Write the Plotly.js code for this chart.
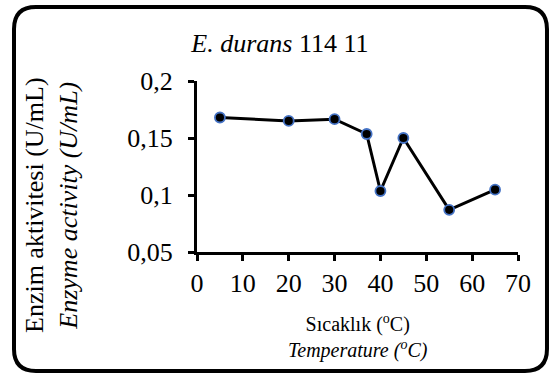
<!DOCTYPE html>
<html>
<head>
<meta charset="utf-8">
<script src="https://cdn.plot.ly/plotly-3.0.1.min.js"></script>
<style>
html,body{margin:0;padding:0;background:#fff;}
#wrap{position:relative;width:550px;height:374px;}
.fontwarm{position:absolute;left:2px;top:2px;z-index:0;font-family:'Times New Roman','Liberation Serif',serif;font-size:3px;line-height:3px;color:#fff;}
#chart{position:absolute;left:0;top:0;width:550px;height:374px;z-index:1;}
</style>
</head>
<body>
<div id="wrap">
<div class="fontwarm">E<i>E</i></div>
<div id="chart"></div>
</div>
<script>
var temperature = [5, 20, 30, 37, 40, 45, 55, 65];
var activity = [0.168, 0.165, 0.1665, 0.1535, 0.1035, 0.150, 0.087, 0.1047];
var xTicks = [0, 10, 20, 30, 40, 50, 60, 70];
var yTicks = [0.05, 0.1, 0.15, 0.2];
var yTickText = ['0,05', '0,1', '0,15', '0,2'];

var FAMILY = 'Times New Roman';

// pixel -> paper helpers for the decorative frame (plot area 197..518 x 81..252)
function px(x) { return ((x - 197) / 321).toFixed(4); }
function py(y) { return ((252 - y) / 171).toFixed(4); }
var L = 14, T = 7, R = 547, B = 371, r = 22;
var framePath = 'M' + px(L + r) + ',' + py(T) + ' L' + px(R - r) + ',' + py(T) +
  ' Q' + px(R) + ',' + py(T) + ' ' + px(R) + ',' + py(T + r) +
  ' L' + px(R) + ',' + py(B - r) +
  ' Q' + px(R) + ',' + py(B) + ' ' + px(R - r) + ',' + py(B) +
  ' L' + px(L + r) + ',' + py(B) +
  ' Q' + px(L) + ',' + py(B) + ' ' + px(L) + ',' + py(B - r) +
  ' L' + px(L) + ',' + py(T + r) +
  ' Q' + px(L) + ',' + py(T) + ' ' + px(L + r) + ',' + py(T) + ' Z';

var trace = {
  x: temperature, y: activity, type: 'scatter', mode: 'lines+markers',
  line: {color: '#000', width: 3},
  marker: {color: '#000', size: 10, line: {color: '#4472C4', width: 1.8}},
  cliponaxis: false
};
var layout = {
  width: 550, height: 374,
  margin: {l: 197, r: 32, t: 81, b: 122},
  paper_bgcolor: '#fff', plot_bgcolor: '#fff',
  showlegend: false,
  font: {family: FAMILY, size: 26},
  title: {text: '<i>E. durans</i> 114 11', x: 0.509, xanchor: 'center', y: 0.885, yanchor: 'middle',
          font: {family: FAMILY, size: 26, color: '#000'}},
  xaxis: {range: [0, 70], tickmode: 'array', tickvals: xTicks, ticks: 'outside', ticklen: 6, tickwidth: 3, tickcolor: '#000',
          showline: true, linewidth: 3, linecolor: '#000', showgrid: false, zeroline: false,
          tickfont: {family: FAMILY, size: 26, color: '#000'}},
  yaxis: {range: [0.05, 0.2], tickmode: 'array', tickvals: yTicks, ticktext: yTickText, ticks: 'outside', ticklen: 6, tickwidth: 3, tickcolor: '#000',
          showline: true, linewidth: 3, linecolor: '#000', showgrid: false, zeroline: false, ticklabelstandoff: 10,
          tickfont: {family: FAMILY, size: 26, color: '#000'}},
  shapes: [{type: 'path', xref: 'paper', yref: 'paper', path: framePath, line: {color: '#000', width: 4}, fillcolor: 'rgba(0,0,0,0)'}],
  annotations: [
    {text: 'Enzim aktivitesi (U/mL)<br><i>Enzyme activity (U/mL)</i>', textangle: -90,
     xref: 'paper', yref: 'paper', x: -0.4517, y: 0.2749, xanchor: 'center', yanchor: 'middle',
     showarrow: false, font: {family: FAMILY, size: 26, color: '#000'}},
    {text: 'Sıcaklık (<sup>o</sup>C)<br><i>Temperature (<sup>o</sup>C)</i>',
     xref: 'paper', yref: 'paper', x: 0.5, y: -0.494, xanchor: 'center', yanchor: 'middle',
     showarrow: false, font: {family: FAMILY, size: 20, color: '#000'}}
  ]
};
Plotly.newPlot('chart', [trace], layout, {staticPlot: true});
if (document.fonts && document.fonts.load) {
  Promise.all([
    document.fonts.load('26px "' + FAMILY + '"'),
    document.fonts.load('italic 26px "' + FAMILY + '"')
  ]).then(function () {
    Plotly.react('chart', [trace], layout, {staticPlot: true});
  }).catch(function () {});
}
</script>
</body>
</html>
